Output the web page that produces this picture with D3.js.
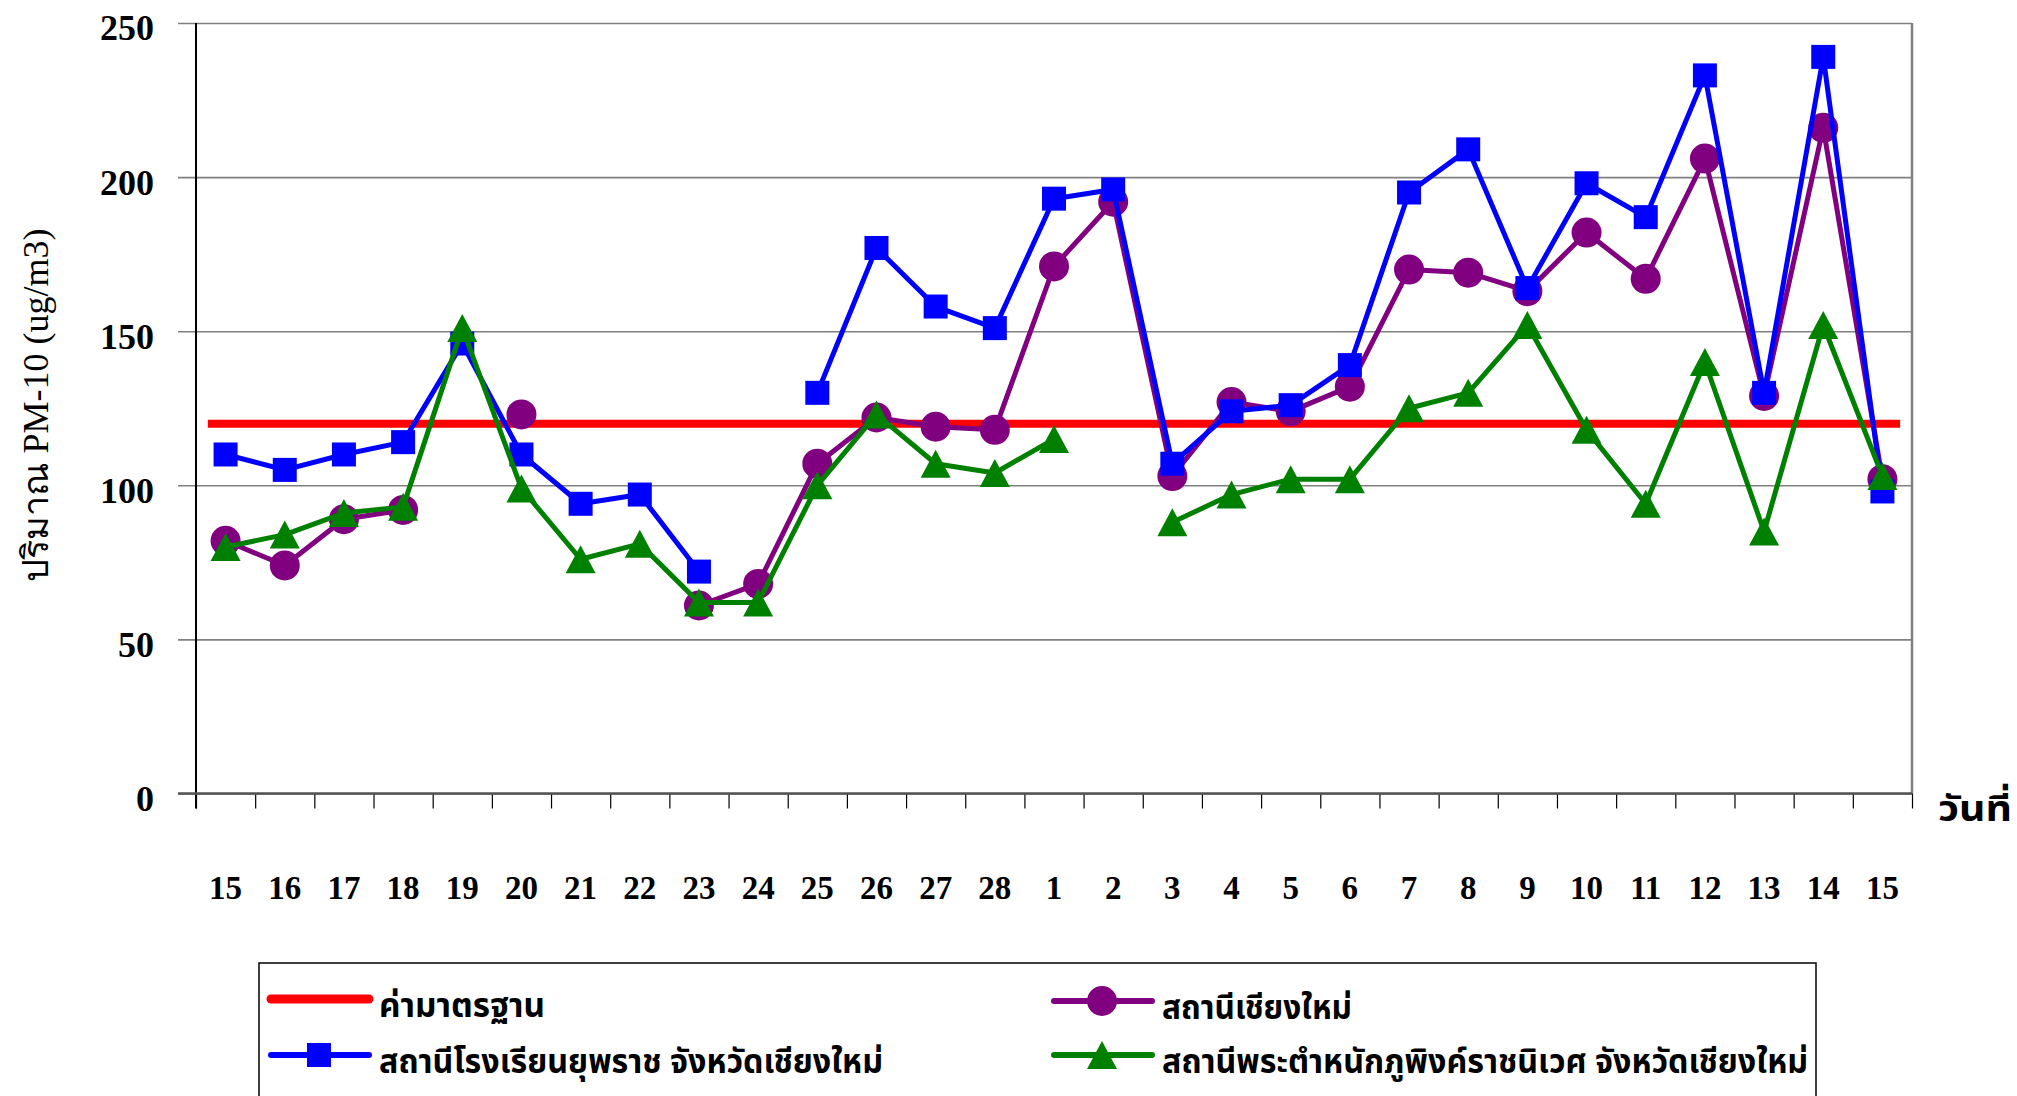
<!DOCTYPE html>
<html>
<head>
<meta charset="utf-8">
<script src="https://cdn.jsdelivr.net/npm/d3@7"></script>
<style>
body { margin: 0; background: #fff; }
svg { display: block; }
</style>
</head>
<body>
<script>
// ข้อมูล PM-10 รายวัน
var days = ["15","16","17","18","19","20","21","22","23","24","25","26","27","28",
            "1","2","3","4","5","6","7","8","9","10","11","12","13","14","15"];
var yTicks = [0, 50, 100, 150, 200, 250];
var standardValue = 120;
var yupparaj = [110,105,110,114,146,110,94,97,72,null,130,177,158,151,193,196,107,124,126,139,195,209,164,198,187,233,130,239,98];
var chiangmai = [82,74,89,92,null,123,null,null,61,68,107,122,119,118,171,192,103,127,124,132,170,169,163,182,167,206,129,216,102];
var phuping = [80,84,91,93,151,99,76,81,62,62,100,123,107,104,115,null,88,97,102,102,125,130,152,118,94,140,85,152,103];
var legendNames = ["ค่ามาตรฐาน", "สถานีโรงเรียนยุพราช จังหวัดเชียงใหม่", "สถานีเชียงใหม่", "สถานีพระตำหนักภูพิงค์ราชนิเวศ จังหวัดเชียงใหม่"];

var width = 2017, height = 1096;
var x0 = 196, x1 = 1912, yTop = 23, yBottom = 793.5;
var numFont = "'Liberation Serif', 'Times New Roman', serif";
var thaiFont = "'Noto Sans Thai', 'Noto Serif Thai', 'Loma', 'Garuda', 'Norasi', 'Liberation Serif', serif";

var svg = d3.select("body").append("svg")
    .attr("width", width)
    .attr("height", height);

var x = d3.scaleBand().domain(d3.range(days.length)).range([x0, x1]);
var xEdge = d3.scaleLinear().domain([0, days.length]).range([x0, x1]);
var y = d3.scaleLinear().domain([0, 250]).range([yBottom, yTop]);
var cx = function(i) { return x(i) + x.bandwidth() / 2; };

// เส้นกริด
var grid = svg.append("g")
    .attr("transform", "translate(" + (x0 - 18) + ",0)")
    .call(d3.axisLeft(y).tickValues(yTicks).tickSize(-(x1 - x0 + 18)).tickFormat(""));
grid.select(".domain").remove();
grid.selectAll("line").attr("stroke", "#808080").attr("stroke-width", 1.6);

// กรอบขวา
svg.append("line")
    .attr("x1", x1).attr("x2", x1).attr("y1", yTop).attr("y2", yBottom)
    .attr("stroke", "#808080").attr("stroke-width", 2.5);

// แกน y
var yAxis = svg.append("g")
    .attr("transform", "translate(" + x0 + ",0)")
    .call(d3.axisLeft(y).tickValues(yTicks).tickSize(0).tickPadding(42));
yAxis.select(".domain").remove();
yAxis.selectAll("text")
    .attr("dy", "0.47em")
    .style("font-family", numFont).style("font-weight", "bold").style("font-size", "36px").attr("fill", "#000");
svg.append("line")
    .attr("x1", x0).attr("x2", x0).attr("y1", yTop).attr("y2", yBottom + 15)
    .attr("stroke", "#000").attr("stroke-width", 2);

// แกน x
var xTickAxis = svg.append("g")
    .attr("transform", "translate(0," + yBottom + ")")
    .call(d3.axisBottom(xEdge).tickValues(d3.range(days.length + 1)).tickSize(15).tickFormat(""));
xTickAxis.select(".domain").remove();
xTickAxis.selectAll("line").attr("stroke", "#000").attr("stroke-width", 1.2);
svg.append("line")
    .attr("x1", x0 - 18).attr("x2", x1).attr("y1", yBottom).attr("y2", yBottom)
    .attr("stroke", "#555").attr("stroke-width", 2.5);

var xAxis = svg.append("g")
    .attr("transform", "translate(0," + yBottom + ")")
    .call(d3.axisBottom(x).tickSize(0).tickFormat(function(i) { return days[i]; }));
xAxis.select(".domain").remove();
xAxis.selectAll("text")
    .attr("y", 105).attr("dy", 0)
    .style("font-family", numFont).style("font-weight", "bold").style("font-size", "33px").attr("fill", "#000");

// ชื่อแกน
svg.append("text")
    .attr("transform", "translate(48," + 405 + ") rotate(-90)")
    .attr("text-anchor", "middle")
    .style("font-family", numFont).style("font-size", "36px")
    .text("ปริมาณ PM-10 (ug/m3)");

svg.append("text")
    .attr("x", 1938).attr("y", 821)
    .attr("textLength", 74).attr("lengthAdjust", "spacingAndGlyphs")
    .style("font-family", thaiFont).style("font-weight", "bold").style("font-size", "36px")
    .text("วันที่");

// เส้นค่ามาตรฐาน
svg.append("line")
    .attr("x1", cx(0) - 0.3 * x.step()).attr("x2", cx(days.length - 1) + 0.3 * x.step())
    .attr("y1", y(standardValue)).attr("y2", y(standardValue))
    .attr("stroke", "#ff0000").attr("stroke-width", 8);

var line = d3.line()
    .defined(function(d) { return d != null; })
    .x(function(d, i) { return cx(i); })
    .y(function(d) { return y(d); });

var triPath = "M0,-14L15,14L-15,14Z";

var series = [
    { data: chiangmai, color: "#800080", shape: "circle" },
    { data: yupparaj, color: "#0000ff", shape: "square" },
    { data: phuping, color: "#008000", shape: "triangle" }
];

function drawMarker(g, shape, color) {
    if (shape === "circle") {
        g.append("ellipse").attr("rx", 15).attr("ry", 15).attr("fill", color);
    } else if (shape === "square") {
        g.append("rect").attr("x", -12).attr("y", -12).attr("width", 24).attr("height", 24).attr("fill", color);
    } else {
        g.append("path").attr("d", triPath).attr("fill", color);
    }
}

series.forEach(function(s) {
    svg.append("path")
        .datum(s.data)
        .attr("d", line)
        .attr("fill", "none")
        .attr("stroke", s.color)
        .attr("stroke-width", 5)
        .attr("stroke-linejoin", "round");
    svg.append("g").selectAll("g")
        .data(s.data.map(function(v, i) { return { v: v, i: i }; }).filter(function(d) { return d.v != null; }))
        .enter()
        .append("g")
        .attr("transform", function(d) { return "translate(" + cx(d.i) + "," + y(d.v) + ")"; })
        .each(function() { drawMarker(d3.select(this), s.shape, s.color); });
});

// คำอธิบายสัญลักษณ์
var legend = svg.append("g");
svg.append("clipPath").attr("id", "legclip")
    .append("rect").attr("x", 259).attr("y", 963).attr("width", 1557).attr("height", 200);
legend.append("rect")
    .attr("x", 259).attr("y", 963).attr("width", 1557).attr("height", 200)
    .attr("fill", "#fff").attr("stroke", "#000").attr("stroke-width", 1.5);

var legendItems = [
    { name: legendNames[0], color: "#ff0000", shape: null, lx: 271, ly: 999, tw: 166 },
    { name: legendNames[1], color: "#0000ff", shape: "square", lx: 271, ly: 1055, tw: 504 },
    { name: legendNames[2], color: "#800080", shape: "circle", lx: 1054, ly: 1001, tw: 190 },
    { name: legendNames[3], color: "#008000", shape: "triangle", lx: 1054, ly: 1055, tw: 646 }
];
var lg = legend.append("g").attr("clip-path", "url(#legclip)");
legendItems.forEach(function(it) {
    lg.append("line")
        .attr("x1", it.lx).attr("x2", it.lx + 98).attr("y1", it.ly).attr("y2", it.ly)
        .attr("stroke", it.color).attr("stroke-width", it.shape ? 6 : 9).attr("stroke-linecap", "round");
    if (it.shape) {
        var mg = lg.append("g").attr("transform", "translate(" + (it.lx + 48) + "," + it.ly + ")");
        drawMarker(mg, it.shape, it.color);
    }
    lg.append("text")
        .attr("x", it.lx + 108).attr("y", it.ly + 18)
        .attr("textLength", it.tw).attr("lengthAdjust", "spacingAndGlyphs")
        .style("font-family", thaiFont).style("font-weight", "bold").style("font-size", "34px")
        .text(it.name);
});
</script>
</body>
</html>
